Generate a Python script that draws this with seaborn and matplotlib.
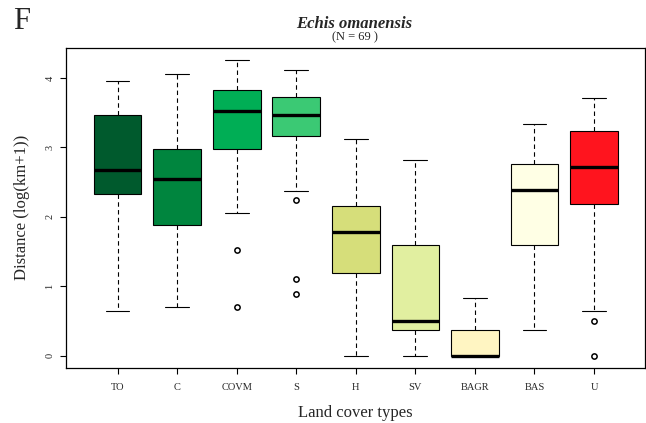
import numpy as np
import pandas as pd
import seaborn as sns
import matplotlib.pyplot as plt

sns.set_style("white")
plt.rcParams['font.family'] = ['Liberation Serif', 'DejaVu Serif']

cover_types = ["TO", "C", "COVM", "S", "H", "SV", "BAGR", "BAS", "U"]
box_colors = ["#005A2D", "#00853E", "#00AE55", "#3BC974", "#D6DE7A",
              "#E1EFA0", "#FFF5C2", "#FFFFE5", "#FF141E"]

# distances: outliers, whisker ends, hinges, medians
# (hinge values repeated so the quartiles land where the boxes are drawn)
to_vals = [0.65, 2.33, 2.67, 3.47, 3.96]
c_vals = [0.71, 1.88, 2.54, 2.98, 4.06]
covm_vals = [0.71, 1.52, 2.05, 2.97, 2.97, 2.97, 3.52,
             3.83, 3.83, 3.83, 3.83, 3.83, 4.26]
s_vals = [0.89, 1.11, 2.25, 2.37, 3.16, 3.16, 3.16, 3.16, 3.47,
          3.72, 3.72, 3.72, 3.72, 3.72, 3.72, 3.72, 4.12]
h_vals = [0.0, 1.19, 1.78, 2.15, 3.12]
sv_vals = [0.0, 0.375, 0.50, 1.60, 2.82]
bagr_vals = [0.0, 0.0, 0.0, 0.375, 0.83]
bas_vals = [0.375, 1.60, 2.39, 2.76, 3.34]
u_vals = [0.0, 0.50, 0.65, 2.18, 2.18, 2.18, 2.72,
          3.23, 3.23, 3.23, 3.23, 3.23, 3.71]

all_vals = [to_vals, c_vals, covm_vals, s_vals, h_vals, sv_vals,
            bagr_vals, bas_vals, u_vals]
d = pd.DataFrame({
    "cover": [c for c, v in zip(cover_types, all_vals) for _ in v],
    "dist": [x for v in all_vals for x in v],
})
d["cover"] = pd.Categorical(d["cover"], categories=cover_types, ordered=True)

fig = plt.figure(figsize=(6.46, 4.23), dpi=100)
ax = fig.add_axes([0.102, 0.1307, 0.8965, 0.7558])

sns.boxplot(data=d, x="cover", y="dist", hue="cover", palette=box_colors,
            legend=False, saturation=1, width=0.8, whis=1.5, ax=ax,
            linecolor="black", linewidth=0.8,
            medianprops=dict(color="black", linewidth=2.4, solid_capstyle="butt"),
            whiskerprops=dict(color="black", linewidth=0.8, linestyle=(0, (4, 3))),
            capprops=dict(color="black", linewidth=0.8),
            flierprops=dict(marker="o", markersize=3.8, markerfacecolor="white",
                            markeredgecolor="black", markeredgewidth=1.1))

ax.set_xlim(-0.868, 8.856)
ax.set_ylim(-0.1705, 4.4305)
ax.set_yticks([0, 1, 2, 3, 4])
ax.tick_params(axis="both", which="both", direction="out", length=4.3,
               width=0.8, color="black", left=True, bottom=True, labelsize=7.5)
ax.tick_params(axis="y", labelrotation=90, pad=4)
ax.tick_params(axis="x", pad=7)
for lab in ax.get_yticklabels():
    lab.set_va("center")
for sp in ax.spines.values():
    sp.set_color("black")
    sp.set_linewidth(0.9)

ax.set_xlabel("Land cover types", fontsize=12, labelpad=9)
ax.set_ylabel("Distance (log(km+1))", fontsize=12, labelpad=11)

fig.text(0.549, 1 - 28 / 423, "Echis omanensis", ha="center", va="baseline",
         fontsize=12, fontweight="bold", fontstyle="italic")
fig.text(0.549, 1 - 40 / 423, "(N = 69 )", ha="center", va="baseline", fontsize=9)
fig.text(0.02, 1 - 29 / 423, "F", ha="left", va="baseline", fontsize=22)

fig.savefig("out.png", dpi=100)
